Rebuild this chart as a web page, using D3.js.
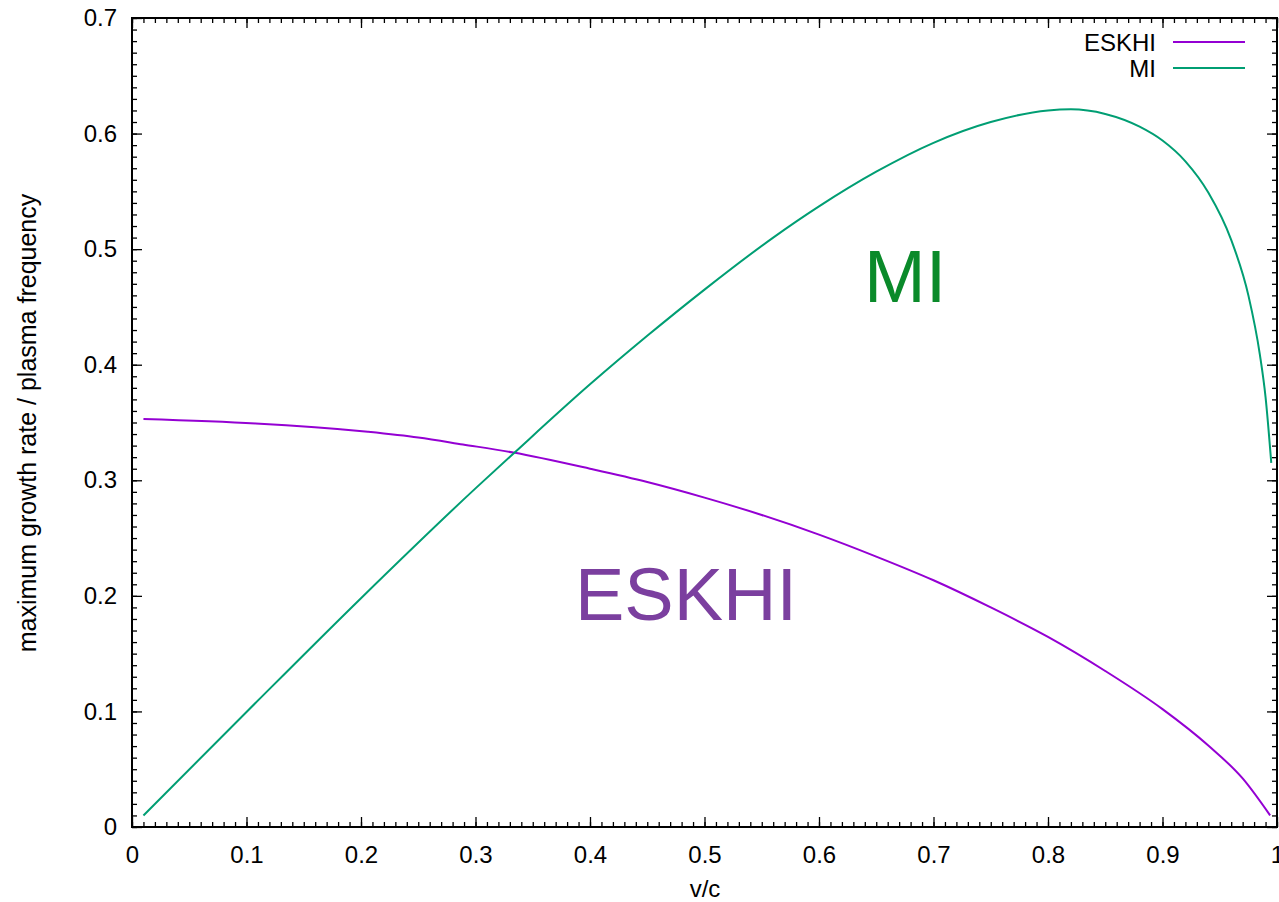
<!DOCTYPE html>
<html>
<head>
<meta charset="utf-8">
<script src="https://cdn.jsdelivr.net/npm/d3@7"></script>
<style>
  body { margin: 0; background: #fff; }
  svg { display: block; font-family: "Liberation Sans", Arial, Helvetica, sans-serif; }
</style>
</head>
<body>
<svg id="chart" width="1279" height="902"></svg>
<script>
// values
var eskhiX = [0.01, 0.206, 0.25, 0.289, 0.333, 0.4, 0.45, 0.5, 0.55, 0.6, 0.65, 0.7, 0.75, 0.8, 0.85, 0.9, 0.94, 0.97, 0.994];
var eskhiY = [0.353, 0.342, 0.337, 0.331, 0.324, 0.310, 0.2985, 0.285, 0.270, 0.253, 0.234, 0.2135, 0.190, 0.1645, 0.135, 0.102, 0.0705, 0.042, 0.010];

var miX = [0.01, 0.1, 0.2, 0.3, 0.333, 0.4, 0.45, 0.5, 0.56, 0.6, 0.65, 0.7, 0.75, 0.8, 0.82, 0.85, 0.88, 0.9, 0.92, 0.94, 0.96, 0.975, 0.985, 0.99, 0.995];
var miY = [0.01, 0.0995, 0.198, 0.293, 0.323, 0.383, 0.425, 0.465, 0.510, 0.537, 0.567, 0.592, 0.610, 0.620, 0.621, 0.617, 0.606, 0.594, 0.576, 0.549, 0.508, 0.460, 0.409, 0.372, 0.315];

var xTicks = [0, 0.1, 0.2, 0.3, 0.4, 0.5, 0.6, 0.7, 0.8, 0.9, 1];
var yTicks = [0, 0.1, 0.2, 0.3, 0.4, 0.5, 0.6, 0.7];
var seriesNames = ["ESKHI", "MI"];
var seriesColors = ["#9400d3", "#009e73"];

var svg = d3.select("#chart");
var plotL = 132, plotR = 1277, plotT = 18, plotB = 827;

var x = d3.scaleLinear().domain([0, 1]).range([plotL, plotR]);
var y = d3.scaleLinear().domain([0, 0.7]).range([plotB, plotT]);

var minorX = d3.range(0, 101).map(function(i) { return i / 100; });
var minorY = d3.range(0, 71).map(function(i) { return i / 100; });

function styleAxis(g) {
  g.select(".domain").remove();
  g.selectAll("line").attr("stroke", "#000").attr("stroke-width", 1.3);
  g.selectAll("text").attr("font-size", 24).attr("fill", "#000");
}

// minor ticks, all four sides, inward
svg.append("g").attr("transform", "translate(0," + plotB + ")")
  .call(d3.axisBottom(x).tickValues(minorX).tickSize(-5).tickFormat(""))
  .call(styleAxis);
svg.append("g").attr("transform", "translate(0," + plotT + ")")
  .call(d3.axisTop(x).tickValues(minorX).tickSize(-5).tickFormat(""))
  .call(styleAxis);
svg.append("g").attr("transform", "translate(" + plotL + ",0)")
  .call(d3.axisLeft(y).tickValues(minorY).tickSize(-5).tickFormat(""))
  .call(styleAxis);
svg.append("g").attr("transform", "translate(" + plotR + ",0)")
  .call(d3.axisRight(y).tickValues(minorY).tickSize(-5).tickFormat(""))
  .call(styleAxis);

// major ticks
svg.append("g").attr("transform", "translate(0," + plotB + ")")
  .call(d3.axisBottom(x).tickValues(xTicks).tickSize(-10).tickPadding(19).tickFormat(d3.format("")))
  .call(styleAxis);
svg.append("g").attr("transform", "translate(0," + plotT + ")")
  .call(d3.axisTop(x).tickValues(xTicks).tickSize(-10).tickFormat(""))
  .call(styleAxis);
svg.append("g").attr("transform", "translate(" + plotL + ",0)")
  .call(d3.axisLeft(y).tickValues(yTicks).tickSize(-10).tickPadding(15).tickFormat(d3.format("")))
  .call(styleAxis);
svg.append("g").attr("transform", "translate(" + plotR + ",0)")
  .call(d3.axisRight(y).tickValues(yTicks).tickSize(-10).tickFormat(""))
  .call(styleAxis);

// frame
svg.append("rect")
  .attr("x", plotL).attr("y", plotT)
  .attr("width", plotR - plotL).attr("height", plotB - plotT)
  .attr("fill", "none").attr("stroke", "#000").attr("stroke-width", 2);

var line = d3.line()
  .x(function(d) { return x(d[0]); })
  .y(function(d) { return y(d[1]); })
  .curve(d3.curveMonotoneX);

var series = [d3.zip(eskhiX, eskhiY), d3.zip(miX, miY)];
series.forEach(function(pts, i) {
  svg.append("path")
    .datum(pts)
    .attr("d", line)
    .attr("fill", "none")
    .attr("stroke", seriesColors[i])
    .attr("stroke-width", 2);
});

// legend
seriesNames.forEach(function(name, i) {
  var ly = 42 + i * 26;
  svg.append("text")
    .attr("x", 1156).attr("y", ly + 9)
    .attr("text-anchor", "end")
    .attr("font-size", 24)
    .text(name);
  svg.append("line")
    .attr("x1", 1173).attr("x2", 1245)
    .attr("y1", ly).attr("y2", ly)
    .attr("stroke", seriesColors[i])
    .attr("stroke-width", 2);
});

// axis titles
svg.append("text")
  .attr("x", 705).attr("y", 897)
  .attr("text-anchor", "middle")
  .attr("font-size", 24)
  .text("v/c");
svg.append("text")
  .attr("transform", "translate(36,423) rotate(-90)")
  .attr("text-anchor", "middle")
  .attr("font-size", 25)
  .text("maximum growth rate / plasma frequency");

// big annotations
svg.append("text")
  .attr("x", 864).attr("y", 302)
  .attr("font-size", 74)
  .attr("fill", "#0a8a2a")
  .text("MI");
svg.append("text")
  .attr("x", 575).attr("y", 620)
  .attr("font-size", 74)
  .attr("fill", "#7b3f9f")
  .text("ESKHI");
</script>
</body>
</html>
